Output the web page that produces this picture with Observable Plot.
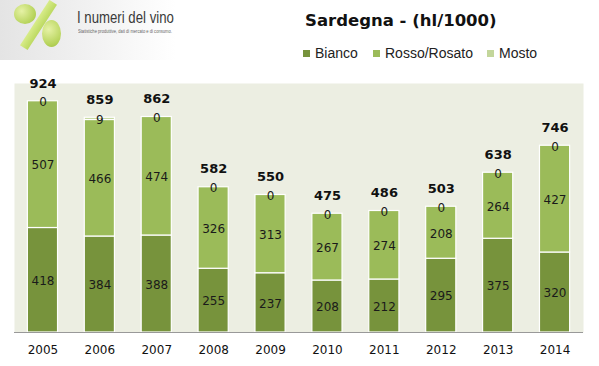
<!DOCTYPE html>
<html><head><meta charset="utf-8">
<script src="https://cdn.jsdelivr.net/npm/d3@7"></script>
<script src="https://cdn.jsdelivr.net/npm/@observablehq/plot@0.6"></script>
<style>
body{margin:0;width:599px;height:366px;background:#fff;overflow:hidden;font-family:"DejaVu Sans",sans-serif}
#header{position:relative;height:70px;width:599px}
#logo{position:absolute;left:0;top:0;width:176px;height:60px;background:linear-gradient(90deg,#e4e4e4 0%,#f4f4f4 60%,#ffffff 100%)}
#logo .t1{position:absolute;left:77px;top:8px;font-family:"Liberation Sans",sans-serif;font-size:16.5px;color:#3a3a3a;white-space:nowrap;transform:scaleX(0.8);transform-origin:left center}
#logo .t2{position:absolute;left:78px;top:28px;font-family:"Liberation Sans",sans-serif;font-size:5px;color:#666;white-space:nowrap;transform:scaleX(0.82);transform-origin:left center}
.grape{position:absolute;border-radius:50%;background:radial-gradient(circle at 35% 35%,#e6f2a6,#b6d35a 70%,#9cbc3e)}
.slash{position:absolute;left:34px;top:-2px;width:9px;height:54px;background:linear-gradient(90deg,#d8ec8a,#bcd960);transform:rotate(33deg);transform-origin:center}
#title{position:absolute;left:305px;top:11px;font-family:"DejaVu Sans",sans-serif;font-weight:bold;font-size:16.5px;color:#111;white-space:nowrap}
#legend{position:absolute;left:303px;top:44px;font-family:"Liberation Sans",Arial,sans-serif;font-size:14px;color:#222;white-space:nowrap}
.li{position:absolute;top:0;display:flex;align-items:center;height:18px}
.sw{display:inline-block;width:7px;height:7px;margin-right:5px}
</style></head><body>
<div id="header">
  <div id="logo">
    <div class="grape" style="left:14px;top:4px;width:22px;height:20px"></div>
    <div class="slash"></div>
    <div class="grape" style="left:42px;top:20px;width:19px;height:27px"></div>
    <div class="t1">I numeri del vino</div>
    <div class="t2">Statistiche produttive, dati di mercato e di consumo.</div>
  </div>
  <div id="title">Sardegna - (hl/1000)</div>
  <div id="legend"></div>
</div>
<div id="chart"></div>
<script>
const years = ["2005","2006","2007","2008","2009","2010","2011","2012","2013","2014"];
const bianco = [418,384,388,255,237,208,212,295,375,320];
const rosso = [507,466,474,326,313,267,274,208,264,427];
const mosto = [0,9,0,0,0,0,0,0,0,0];
const totals = [924,859,862,582,550,475,486,503,638,746];
const seriesNames = ["Bianco","Rosso/Rosato","Mosto"];
const seriesColors = ["#77933c","#9bbb59","#c3d69b"];

// legend
const legend = document.getElementById("legend");
const legendX = [0, 70, 184];
seriesNames.forEach((n,i)=>{
  const d = document.createElement("div");
  d.className = "li";
  d.style.left = legendX[i] + "px";
  d.innerHTML = `<span class="sw" style="background:${seriesColors[i]}"></span><span>${n}</span>`;
  legend.appendChild(d);
});

const seriesValues = [bianco, rosso, mosto];
const rows = [];
years.forEach((y,i)=>{
  seriesNames.forEach((s,j)=>{
    rows.push({year:y, series:s, value:seriesValues[j][i]});
  });
});
const totalRows = years.map((y,i)=>({year:y, total:totals[i]}));

const chart = Plot.plot({
  width: 599,
  height: 296,
  marginTop: 13,
  marginBottom: 34,
  marginLeft: 14,
  marginRight: 16,
  style: {fontFamily: "DejaVu Sans, sans-serif", background: "transparent"},
  x: {type: "band", domain: years, paddingInner: 0.47, paddingOuter: 0.235, round: false, label: null},
  y: {domain: [0, 996], axis: null},
  color: {domain: seriesNames, range: seriesColors},
  marks: [
    Plot.frame({fill: "#eceee2", stroke: null}),
    Plot.barY(rows, {x: "year", y: "value", z: "series", fill: "series", stroke: "#ffffff", strokeWidth: 1.2, order: seriesNames}),
    Plot.text(rows, Plot.stackY({x: "year", y: "value", z: "series", text: d => String(d.value), order: seriesNames, fill: "#1a1a1a", fontSize: 12, dy: 1})),
    Plot.text(totalRows, {x: "year", y: "total", text: d => String(d.total), dy: -18, fontSize: 13, fontWeight: "bold", fill: "#111"}),
    Plot.ruleY([0], {stroke: "#999", strokeWidth: 1.2}),
    Plot.axisX({tickSize: 0, tickPadding: 13, fontSize: 12, fill: "#111", label: null})
  ]
});
document.getElementById("chart").appendChild(chart);
</script>
</body></html>
